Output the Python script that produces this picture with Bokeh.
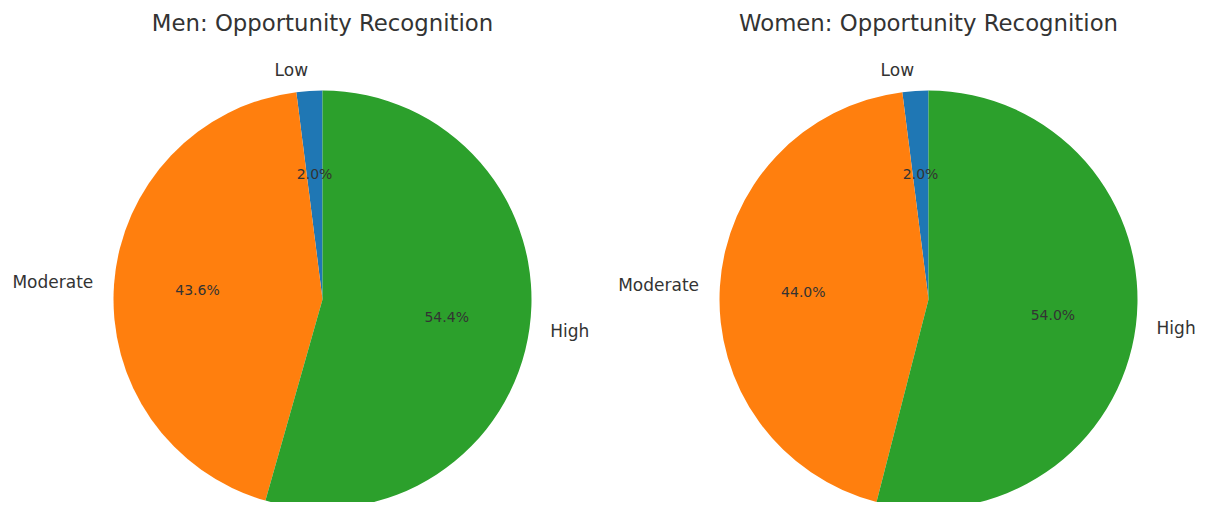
import numpy as np
from bokeh.plotting import figure
from bokeh.models import Range1d, ColumnDataSource
from bokeh.core.properties import value
from bokeh.embed import file_html
from bokeh.resources import INLINE

categories = ["Low", "Moderate", "High"]
men_values = [2.0, 43.6, 54.4]
women_values = [2.0, 44.0, 54.0]
titles = ["Men: Opportunity Recognition", "Women: Opportunity Recognition"]
colors = ["#1f77b4", "#ff7f0e", "#2ca02c"]

W, H = 1198, 502
p = figure(width=W, height=H, output_backend="svg", toolbar_location=None,
           x_range=Range1d(0, W), y_range=Range1d(510 - H, 510),
           min_border=0, tools="")
p.axis.visible = False
p.grid.visible = False
p.outline_line_color = None
p.background_fill_color = "white"

FONT = value("DejaVu Sans")
R = 209
CY = 510 - 299
centers = [322, 928]

for cx, vals, title in zip(centers, [men_values, women_values], titles):
    v = np.array(vals, dtype=float)
    frac = v / v.sum()
    start = np.pi / 2 + 2 * np.pi * np.concatenate([[0], np.cumsum(frac)[:-1]])
    end = start + 2 * np.pi * frac
    mid = (start + end) / 2
    src = ColumnDataSource(dict(x=[cx] * 3, y=[CY] * 3, s=start, e=end, c=colors))
    p.wedge(x="x", y="y", radius=R, start_angle="s", end_angle="e",
            direction="anticlock", fill_color="c", line_color=None, source=src)
    # category labels
    lx = cx + 1.1 * R * np.cos(mid)
    ly = CY + 1.1 * R * np.sin(mid)
    aligns = ["right" if np.cos(m) < 0 else "left" for m in mid]
    lsrc = ColumnDataSource(dict(x=lx, y=ly, t=categories, a=aligns))
    p.text(x="x", y="y", text="t", text_align="a", text_baseline="middle",
           text_font=FONT, text_font_size="17px", text_color="#333333", source=lsrc)
    # percentage labels
    px = cx + 0.6 * R * np.cos(mid)
    py = CY + 0.6 * R * np.sin(mid)
    psrc = ColumnDataSource(dict(x=px, y=py, t=["%.1f%%" % (f * 100) for f in frac]))
    p.text(x="x", y="y", text="t", text_align="center", text_baseline="middle",
           text_font=FONT, text_font_size="14px", text_color="#333333", source=psrc)
    # title
    p.text(x=[cx], y=[510 - 22], text=[title], text_align="center", text_baseline="middle",
           text_font=FONT, text_font_size="22.8px", text_color="#333333")

open("out.html", "w").write(file_html(p, INLINE))
